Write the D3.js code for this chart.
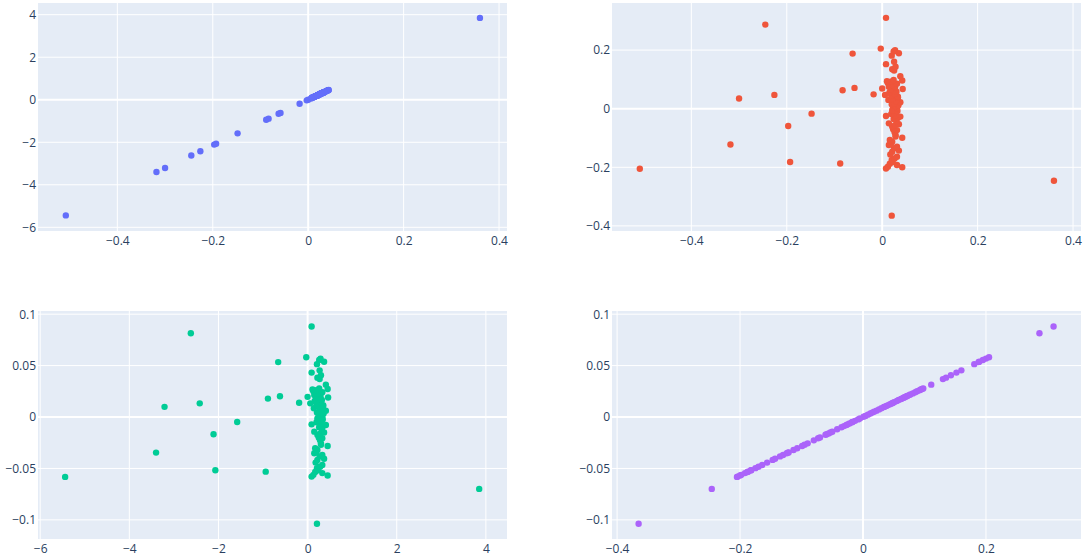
<!doctype html>
<html>
  <head>
    <meta charset="utf-8" />
    <title>scatter matrix</title>
    <style>
      body { margin: 0; background: #fff; }
      .tick text { font: 12px "Open Sans", sans-serif; fill: #2a3f5f; }
      .grid line { stroke: #fff; stroke-width: 1px; }
      .zero { stroke: #fff; stroke-width: 2px; }
      .bg { fill: #E5ECF6; }
    </style>
  </head>
  <body>
    <div id="chart"></div>
    <script src="https://cdn.jsdelivr.net/npm/d3@7"></script>
    <script>
      // four variables, one value per sample
      var colA = [-0.508, -0.318, -0.300, -0.245, -0.226, -0.197, -0.193, -0.148, -0.088, -0.083, -0.062, -0.058, -0.018, -0.003, 0.360, 0.008, 0.020,
        0.008, 0.042, 0.012, 0.031, 0.016, 0.022, 0.020, 0.026, 0.031, 0.017, 0.021, 0.035, 0.025, 0.031, 0.014, 0.018, 0.021, 0.016, 0.042, 0.028,
        0.028, 0.026, 0.031, 0.023, 0.021, 0.027, 0.035, 0.014, 0.030, 0.024, 0.033, 0.038, 0.008, 0.028, 0.019, 0.025, 0.032, 0.021, 0.031, 0.023,
        0.027, 0.034, 0.020, 0.025, 0.038, 0.029, 0.013, 0.023, 0.033, 0.033, 0.019, 0.006, 0.026, 0.015, 0.030, 0.022, 0.018, 0.043, 0.000, 0.027,
        0.014, 0.025, 0.020, 0.031, 0.012, 0.018, 0.010, 0.042, 0.024, 0.038, 0.025, 0.021, 0.028, 0.008, 0.025, 0.020, 0.035, 0.024, 0.027];
      var colB = [-5.44, -3.40, -3.21, -2.62, -2.42, -2.11, -2.07, -1.58, -0.94, -0.89, -0.66, -0.62, -0.19, -0.03, 3.85, 0.09, 0.21,
        0.09, 0.45, 0.13, 0.33, 0.17, 0.24, 0.21, 0.28, 0.33, 0.18, 0.22, 0.37, 0.27, 0.33, 0.15, 0.19, 0.22, 0.17, 0.45, 0.30,
        0.30, 0.28, 0.33, 0.25, 0.22, 0.29, 0.37, 0.15, 0.32, 0.26, 0.35, 0.41, 0.09, 0.30, 0.20, 0.27, 0.34, 0.22, 0.33, 0.25,
        0.29, 0.36, 0.21, 0.27, 0.41, 0.31, 0.14, 0.25, 0.35, 0.35, 0.20, 0.06, 0.28, 0.16, 0.32, 0.24, 0.19, 0.46, 0.00, 0.29,
        0.15, 0.27, 0.21, 0.33, 0.13, 0.19, 0.11, 0.45, 0.26, 0.41, 0.27, 0.22, 0.30, 0.09, 0.27, 0.21, 0.37, 0.26, 0.29];
      var colC = [-0.205, -0.122, 0.035, 0.287, 0.047, -0.059, -0.182, -0.017, -0.187, 0.063, 0.188, 0.071, 0.049, 0.205, -0.246, 0.310, -0.365,
        -0.204, -0.200, -0.198, -0.192, -0.188, -0.182, -0.175, -0.170, -0.164, -0.156, -0.147, -0.143, -0.135, -0.130, -0.124, -0.121, -0.113, -0.107, -0.099, -0.095,
        -0.090, -0.080, -0.073, -0.070, -0.061, -0.056, -0.053, -0.050, -0.042, -0.035, -0.031, -0.027, -0.025, -0.022, -0.018, -0.013, -0.008, -0.005, 0.001, 0.004,
        0.008, 0.012, 0.015, 0.018, 0.022, 0.026, 0.030, 0.034, 0.038, 0.041, 0.044, 0.047, 0.051, 0.055, 0.058, 0.062, 0.066, 0.067, 0.069, 0.072,
        0.075, 0.077, 0.081, 0.085, 0.088, 0.092, 0.094, 0.096, 0.098, 0.111, 0.130, 0.135, 0.143, 0.152, 0.160, 0.181, 0.189, 0.195, 0.200];
      var colD = [-0.0582, -0.0346, 0.0099, 0.0815, 0.0133, -0.0168, -0.0517, -0.0048, -0.0531, 0.0179, 0.0534, 0.0202, 0.0139, 0.0582, -0.0699, 0.0880, -0.1037,
        -0.0579, -0.0568, -0.0562, -0.0545, -0.0534, -0.0517, -0.0497, -0.0483, -0.0466, -0.0443, -0.0417, -0.0406, -0.0383, -0.0369, -0.0352, -0.0344, -0.0321, -0.0304, -0.0281, -0.0270,
        -0.0256, -0.0227, -0.0207, -0.0199, -0.0173, -0.0159, -0.0151, -0.0142, -0.0119, -0.0099, -0.0088, -0.0077, -0.0071, -0.0062, -0.0051, -0.0037, -0.0023, -0.0014, 0.0003, 0.0011,
        0.0023, 0.0034, 0.0043, 0.0051, 0.0062, 0.0074, 0.0085, 0.0097, 0.0108, 0.0116, 0.0125, 0.0133, 0.0145, 0.0156, 0.0165, 0.0176, 0.0187, 0.0190, 0.0196, 0.0204,
        0.0213, 0.0219, 0.0230, 0.0241, 0.0250, 0.0261, 0.0267, 0.0273, 0.0278, 0.0315, 0.0369, 0.0383, 0.0406, 0.0432, 0.0454, 0.0514, 0.0537, 0.0554, 0.0568];

      var ticksA = [-0.4, -0.2, 0, 0.2, 0.4];
      var ticksB = [-6, -4, -2, 0, 2, 4];
      var ticksB3 = [-6, -4, -2, 0, 2, 4];
      var ticksC = [-0.4, -0.2, 0, 0.2];
      var ticksD = [-0.1, -0.05, 0, 0.05, 0.1];
      var colors = ["#636efa", "#EF553B", "#00cc96", "#ab63fa"];

      var W = 1090, H = 558;
      var margin = {left: 38, top: 3},
          pw = 469, ph = 228, gapX = 105, gapY = 80;

      var panels = [
        {col: 0, row: 0, x: colA, y: colB, xr: [-0.5663, 0.4167], yr: [-6.174, 4.55], xt: ticksA, yt: ticksB},
        {col: 1, row: 0, x: colA, y: colC, xr: [-0.5663, 0.4167], yr: [-0.4174, 0.3607], xt: ticksA, yt: [-0.4, -0.2, 0, 0.2]},
        {col: 0, row: 1, x: colB, y: colD, xr: [-6.049, 4.474], yr: [-0.1186, 0.1031], xt: ticksB3, yt: ticksD},
        {col: 1, row: 1, x: colC, y: colD, xr: [-0.4083, 0.3546], yr: [-0.1186, 0.1031], xt: ticksC, yt: ticksD}
      ];

      var fmt = d3.format("~g");

      var svg = d3.select("#chart").append("svg")
                  .attr("width", W)
                  .attr("height", H);

      panels.forEach(function(p, i) {
        var g = svg.append("g")
                   .attr("transform", "translate(" + (margin.left + p.col * (pw + gapX)) + "," + (margin.top + p.row * (ph + gapY)) + ")");

        var x = d3.scaleLinear().domain(p.xr).range([0, pw]);
        var y = d3.scaleLinear().domain(p.yr).range([ph, 0]);

        g.append("rect").attr("class", "bg").attr("width", pw).attr("height", ph);

        // grid lines
        g.append("g").attr("class", "grid")
         .selectAll("line").data(p.xt.filter(function(t) { return t !== 0; }))
         .enter().append("line")
         .attr("x1", function(d) { return x(d); }).attr("x2", function(d) { return x(d); })
         .attr("y1", 0).attr("y2", ph);
        g.append("g").attr("class", "grid")
         .selectAll("line").data(p.yt.filter(function(t) { return t !== 0; }))
         .enter().append("line")
         .attr("y1", function(d) { return y(d); }).attr("y2", function(d) { return y(d); })
         .attr("x1", 0).attr("x2", pw);

        // zero lines
        g.append("line").attr("class", "zero")
         .attr("x1", x(0)).attr("x2", x(0)).attr("y1", 0).attr("y2", ph);
        g.append("line").attr("class", "zero")
         .attr("x1", 0).attr("x2", pw).attr("y1", y(0)).attr("y2", y(0));

        // axes (labels only)
        var xAxis = d3.axisBottom(x).tickValues(p.xt).tickFormat(fmt).tickSize(0).tickPadding(5);
        var yAxis = d3.axisLeft(y).tickValues(p.yt).tickFormat(fmt).tickSize(0).tickPadding(2);
        var gx = g.append("g").attr("transform", "translate(0," + ph + ")").call(xAxis);
        var gy = g.append("g").call(yAxis);
        gx.select(".domain").remove();
        gy.select(".domain").remove();

        var pts = p.x.map(function(v, k) { return [v, p.y[k]]; });
        g.append("g").selectAll("circle")
         .data(pts)
         .enter().append("circle")
         .attr("cx", function(d) { return x(d[0]); })
         .attr("cy", function(d) { return y(d[1]); })
         .attr("r", 3.2)
         .style("fill", colors[i]);
      });
    </script>
  </body>
</html>
